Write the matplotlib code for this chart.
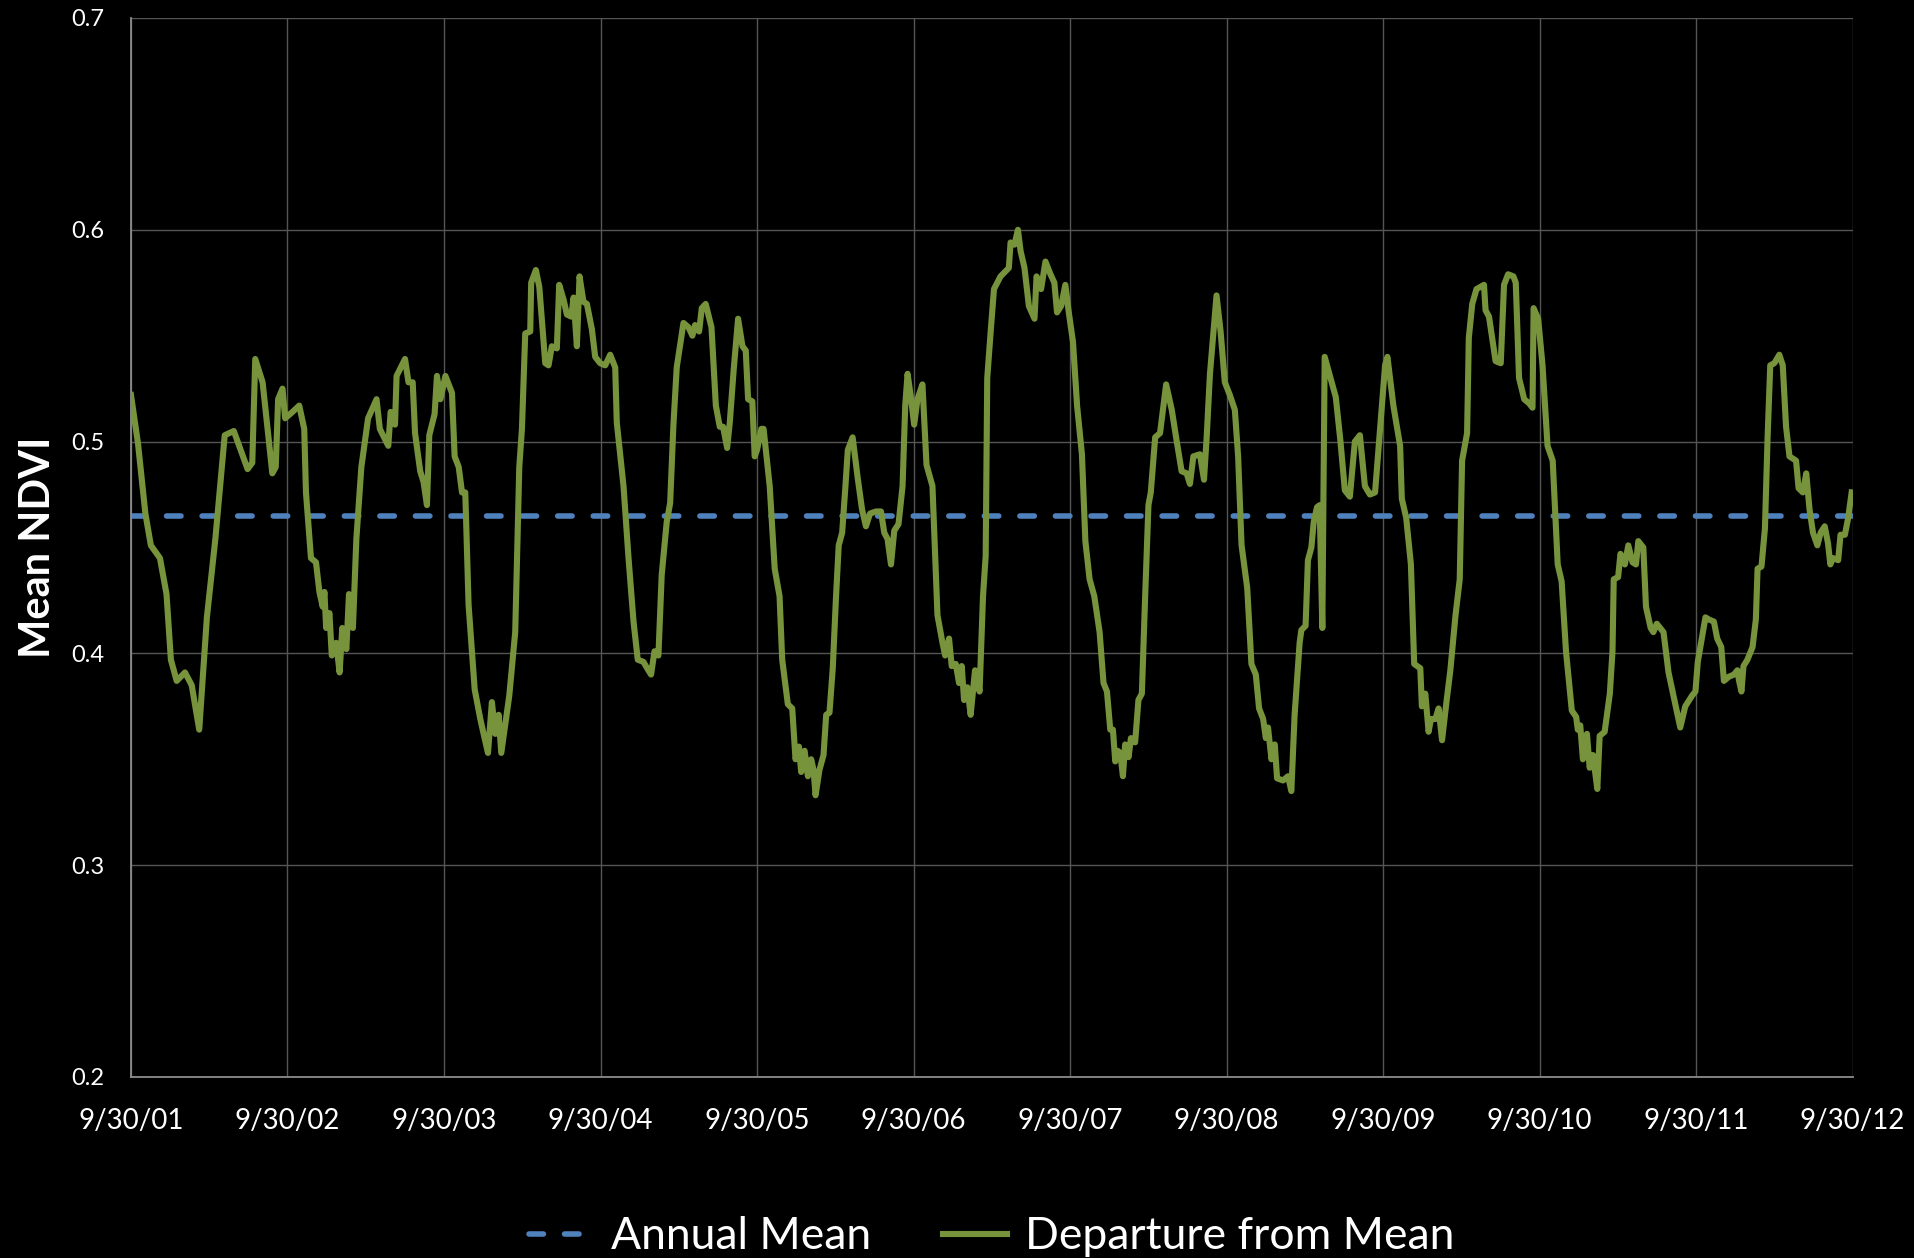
import matplotlib.pyplot as plt

# years since 9/30/01 and mean NDVI
t_years = [
    0.000, 0.045, 0.092, 0.127, 0.185, 0.227, 0.255, 0.292, 0.345, 0.388,
    0.436, 0.485, 0.539, 0.599, 0.657, 0.745, 0.775, 0.794, 0.841, 0.903,
    0.925, 0.940, 0.968, 0.985, 1.032, 1.075, 1.107, 1.118, 1.150, 1.182,
    1.204, 1.225, 1.236, 1.247, 1.268, 1.283, 1.311, 1.333, 1.350, 1.376,
    1.393, 1.418, 1.440, 1.472, 1.515, 1.569, 1.590, 1.644, 1.659, 1.687,
    1.697, 1.751, 1.773, 1.800, 1.815, 1.848, 1.869, 1.891,
    1.906, 1.940, 1.955, 1.977, 2.009, 2.051, 2.068, 2.094, 2.115, 2.136,
    2.157, 2.196, 2.232, 2.253, 2.281, 2.306, 2.328, 2.349, 2.366, 2.417,
    2.455, 2.481, 2.498, 2.519, 2.551, 2.557, 2.587, 2.609, 2.647, 2.668,
    2.689, 2.721, 2.736, 2.764, 2.785, 2.813, 2.828, 2.849, 2.866, 2.891,
    2.913, 2.945, 2.966, 2.998, 3.030, 3.062, 3.094, 3.104, 3.147, 3.179,
    3.211, 3.238, 3.274, 3.306, 3.323, 3.345, 3.370, 3.391, 3.423, 3.445,
    3.466, 3.487, 3.530, 3.562, 3.587, 3.604, 3.630, 3.647, 3.672,
    3.709, 3.737, 3.762, 3.783, 3.809, 3.826, 3.851, 3.879, 3.907, 3.928,
    3.943, 3.970, 3.985, 4.000, 4.028, 4.042, 4.081, 4.113, 4.144, 4.161,
    4.197, 4.225, 4.246, 4.268, 4.282, 4.304, 4.325, 4.346, 4.361, 4.374,
    4.399, 4.425, 4.442, 4.463, 4.484, 4.505, 4.522, 4.544, 4.565, 4.580,
    4.611, 4.643, 4.671, 4.696, 4.722, 4.760, 4.792, 4.813, 4.834, 4.856,
    4.877, 4.904, 4.930, 4.947, 4.962, 4.983, 5.004, 5.025, 5.057, 5.083,
    5.121, 5.153, 5.185, 5.202, 5.227, 5.244, 5.270, 5.291, 5.308, 5.323,
    5.344, 5.365, 5.393, 5.422, 5.444, 5.461, 5.471, 5.493, 5.514,
    5.556, 5.609, 5.620, 5.645, 5.667, 5.684, 5.709, 5.737, 5.773, 5.786,
    5.815, 5.843, 5.875, 5.900, 5.917, 5.943, 5.970, 5.992, 6.019, 6.045,
    6.076, 6.098, 6.125, 6.155, 6.189, 6.214, 6.236, 6.257, 6.274, 6.289,
    6.304, 6.321, 6.338, 6.352, 6.374, 6.389, 6.416, 6.437, 6.459, 6.480,
    6.501, 6.516, 6.544, 6.575, 6.614, 6.650, 6.682, 6.713, 6.745, 6.766,
    6.788, 6.830, 6.856, 6.873, 6.894, 6.936, 6.962, 6.989, 7.021, 7.053,
    7.074, 7.096, 7.132, 7.159, 7.187, 7.208, 7.234, 7.251, 7.265, 7.287,
    7.308, 7.323, 7.361, 7.393, 7.414,
    7.435, 7.467, 7.478, 7.505, 7.520, 7.542, 7.557, 7.578, 7.595, 7.612,
    7.627, 7.657, 7.698, 7.728, 7.756, 7.788, 7.820, 7.852, 7.884, 7.916,
    7.949, 7.981, 8.013, 8.028, 8.066, 8.109, 8.120, 8.148, 8.178, 8.199,
    8.238, 8.248, 8.270, 8.291, 8.306, 8.334, 8.355, 8.377, 8.405, 8.430,
    8.463, 8.490, 8.505, 8.537, 8.548, 8.570, 8.597, 8.645, 8.655, 8.677,
    8.719, 8.752, 8.773, 8.799, 8.833, 8.848, 8.869, 8.902, 8.934, 8.955,
    8.962, 8.991, 9.019, 9.051, 9.084, 9.116, 9.141, 9.169, 9.206, 9.234,
    9.244,
    9.260, 9.277, 9.303, 9.320, 9.341, 9.369, 9.384, 9.416, 9.449, 9.466,
    9.474, 9.502, 9.517, 9.545, 9.567, 9.594, 9.616, 9.631, 9.663, 9.680,
    9.710, 9.727, 9.749, 9.792, 9.824, 9.856, 9.899, 9.931, 9.974, 9.996,
    10.011, 10.032, 10.060, 10.082, 10.114, 10.135, 10.161, 10.178, 10.210, 10.242,
    10.264, 10.275, 10.290, 10.303, 10.328, 10.361, 10.382, 10.393, 10.418, 10.440,
    10.457, 10.474, 10.500, 10.532, 10.554, 10.575, 10.597, 10.639, 10.655, 10.682,
    10.704, 10.725, 10.747, 10.775, 10.796, 10.822, 10.843, 10.858, 10.875, 10.908,
    10.923, 10.951, 10.972, 10.994,
]

ndvi = [
    0.522, 0.499, 0.466, 0.451, 0.445, 0.428, 0.397, 0.387, 0.391, 0.385,
    0.364, 0.417, 0.454, 0.503, 0.505, 0.487, 0.490, 0.539, 0.528, 0.485,
    0.488, 0.520, 0.525, 0.511, 0.514, 0.517, 0.506, 0.476, 0.445, 0.443,
    0.429, 0.422, 0.429, 0.412, 0.419, 0.399, 0.405, 0.391, 0.412, 0.402,
    0.428, 0.412, 0.454, 0.488, 0.511, 0.520, 0.506, 0.498, 0.514, 0.508,
    0.531, 0.539, 0.528, 0.528, 0.504, 0.486, 0.481, 0.470,
    0.503, 0.513, 0.531, 0.520, 0.531, 0.523, 0.493, 0.488, 0.476, 0.476,
    0.423, 0.383, 0.369, 0.362, 0.353, 0.377, 0.362, 0.371, 0.353, 0.380,
    0.410, 0.488, 0.506, 0.551, 0.552, 0.575, 0.581, 0.573, 0.537, 0.536,
    0.545, 0.544, 0.574, 0.567, 0.560, 0.559, 0.568, 0.545, 0.578, 0.566,
    0.565, 0.553, 0.540, 0.537, 0.536, 0.541, 0.535, 0.509, 0.479, 0.445,
    0.415, 0.397, 0.396, 0.392, 0.390, 0.401, 0.399, 0.437, 0.462, 0.471,
    0.508, 0.535, 0.556, 0.554, 0.550, 0.555, 0.552, 0.563, 0.565,
    0.554, 0.517, 0.507, 0.507, 0.497, 0.509, 0.534, 0.558, 0.545, 0.543,
    0.520, 0.519, 0.493, 0.496, 0.506, 0.506, 0.479, 0.440, 0.427, 0.397,
    0.376, 0.374, 0.350, 0.356, 0.344, 0.354, 0.342, 0.350, 0.345, 0.333,
    0.345, 0.352, 0.371, 0.372, 0.393, 0.427, 0.451, 0.457, 0.479, 0.496,
    0.502, 0.483, 0.468, 0.460, 0.466, 0.467, 0.467, 0.457, 0.454, 0.442,
    0.458, 0.461, 0.479, 0.517, 0.532, 0.521, 0.508, 0.520, 0.527, 0.489,
    0.479, 0.418, 0.405, 0.399, 0.407, 0.394, 0.395, 0.386, 0.394, 0.378,
    0.384, 0.371, 0.392, 0.382, 0.427, 0.446, 0.530, 0.552, 0.572,
    0.578, 0.582, 0.594, 0.593, 0.600, 0.590, 0.582, 0.564, 0.558, 0.578,
    0.572, 0.585, 0.579, 0.575, 0.561, 0.564, 0.574, 0.561, 0.547, 0.517,
    0.494, 0.453, 0.435, 0.427, 0.410, 0.386, 0.382, 0.364, 0.364, 0.349,
    0.354, 0.353, 0.342, 0.357, 0.351, 0.360, 0.358, 0.378, 0.381, 0.427,
    0.470, 0.476, 0.502, 0.504, 0.527, 0.515, 0.500, 0.486, 0.485, 0.480,
    0.493, 0.494, 0.482, 0.502, 0.532, 0.569, 0.552, 0.528, 0.522, 0.515,
    0.493, 0.451, 0.431, 0.395, 0.390, 0.374, 0.369, 0.360, 0.365, 0.350,
    0.357, 0.341, 0.340, 0.342, 0.335,
    0.371, 0.405, 0.411, 0.413, 0.444, 0.450, 0.462, 0.469, 0.470, 0.412,
    0.540, 0.532, 0.521, 0.500, 0.477, 0.474, 0.500, 0.503, 0.479, 0.475,
    0.476, 0.506, 0.536, 0.540, 0.517, 0.498, 0.473, 0.464, 0.442, 0.395,
    0.393, 0.375, 0.381, 0.363, 0.369, 0.369, 0.374, 0.359, 0.377, 0.392,
    0.418, 0.435, 0.491, 0.504, 0.549, 0.565, 0.572, 0.574, 0.562, 0.559,
    0.538, 0.537, 0.574, 0.579, 0.578, 0.575, 0.530, 0.520, 0.518, 0.516,
    0.563, 0.558, 0.536, 0.498, 0.491, 0.442, 0.434, 0.401, 0.373, 0.370,
    0.364,
    0.366, 0.350, 0.362, 0.346, 0.352, 0.336, 0.361, 0.363, 0.381, 0.401,
    0.435, 0.436, 0.447, 0.442, 0.451, 0.443, 0.442, 0.453, 0.450, 0.422,
    0.412, 0.410, 0.414, 0.410, 0.391, 0.380, 0.365, 0.375, 0.380, 0.382,
    0.396, 0.405, 0.417, 0.416, 0.415, 0.407, 0.403, 0.387, 0.389, 0.390,
    0.392, 0.387, 0.382, 0.394, 0.397, 0.403, 0.416, 0.440, 0.441, 0.459,
    0.502, 0.536, 0.537, 0.541, 0.536, 0.507, 0.493, 0.491, 0.478, 0.476,
    0.485, 0.468, 0.457, 0.451, 0.457, 0.460, 0.452, 0.442, 0.445, 0.444,
    0.456, 0.456, 0.464, 0.476,
]

annual_mean = 0.465

tick_labels = ['9/30/01', '9/30/02', '9/30/03', '9/30/04', '9/30/05', '9/30/06',
               '9/30/07', '9/30/08', '9/30/09', '9/30/10', '9/30/11', '9/30/12']
y_ticks = [0.2, 0.3, 0.4, 0.5, 0.6, 0.7]

plt.rcParams['font.family'] = ['Lato', 'DejaVu Sans']

fig = plt.figure(figsize=(19.15, 12.58), dpi=100, facecolor='black')
ax = fig.add_axes([0.0684, 0.1439, 0.8990, 0.8418], facecolor='black')

ax.axhline(annual_mean, color='#4F81BD', lw=4.0, dashes=(2.6, 3.8),
           dash_capstyle='round', label='Annual Mean', zorder=2)
ax.plot(t_years, ndvi, color='#77933C', lw=4.4, solid_joinstyle='round',
        label='Departure from Mean', zorder=3)

ax.set_xlim(0, len(tick_labels) - 1)
ax.set_ylim(y_ticks[0], y_ticks[-1])
ax.set_xticks(range(len(tick_labels)))
ax.set_xticklabels(tick_labels)
ax.set_yticks(y_ticks)
ax.set_yticklabels(['%.1f' % v for v in y_ticks])

ax.grid(True, color='#555555', lw=1.0)
ax.set_axisbelow(True)
for side in ['top', 'right']:
    ax.spines[side].set_visible(False)
for side in ['left', 'bottom']:
    ax.spines[side].set_color('#8c8c8c')
    ax.spines[side].set_linewidth(1.3)

ax.tick_params(axis='x', length=0, pad=22, labelsize=20, colors='white')
ax.tick_params(axis='y', length=0, pad=19, labelsize=17, colors='white')

fig.text(38 / 1915, 0.565, 'Mean NDVI', rotation=90, ha='center', va='center',
         color='white', fontsize=30, fontweight='bold')

leg = ax.legend(loc='center', bbox_to_anchor=(0.5, -0.151), ncol=2, frameon=False,
                fontsize=32, handlelength=1.45, handletextpad=0.4, columnspacing=1.6,
                borderpad=0.1)
for txt in leg.get_texts():
    txt.set_color('white')

fig.savefig('out.png', dpi=100, facecolor='black')
